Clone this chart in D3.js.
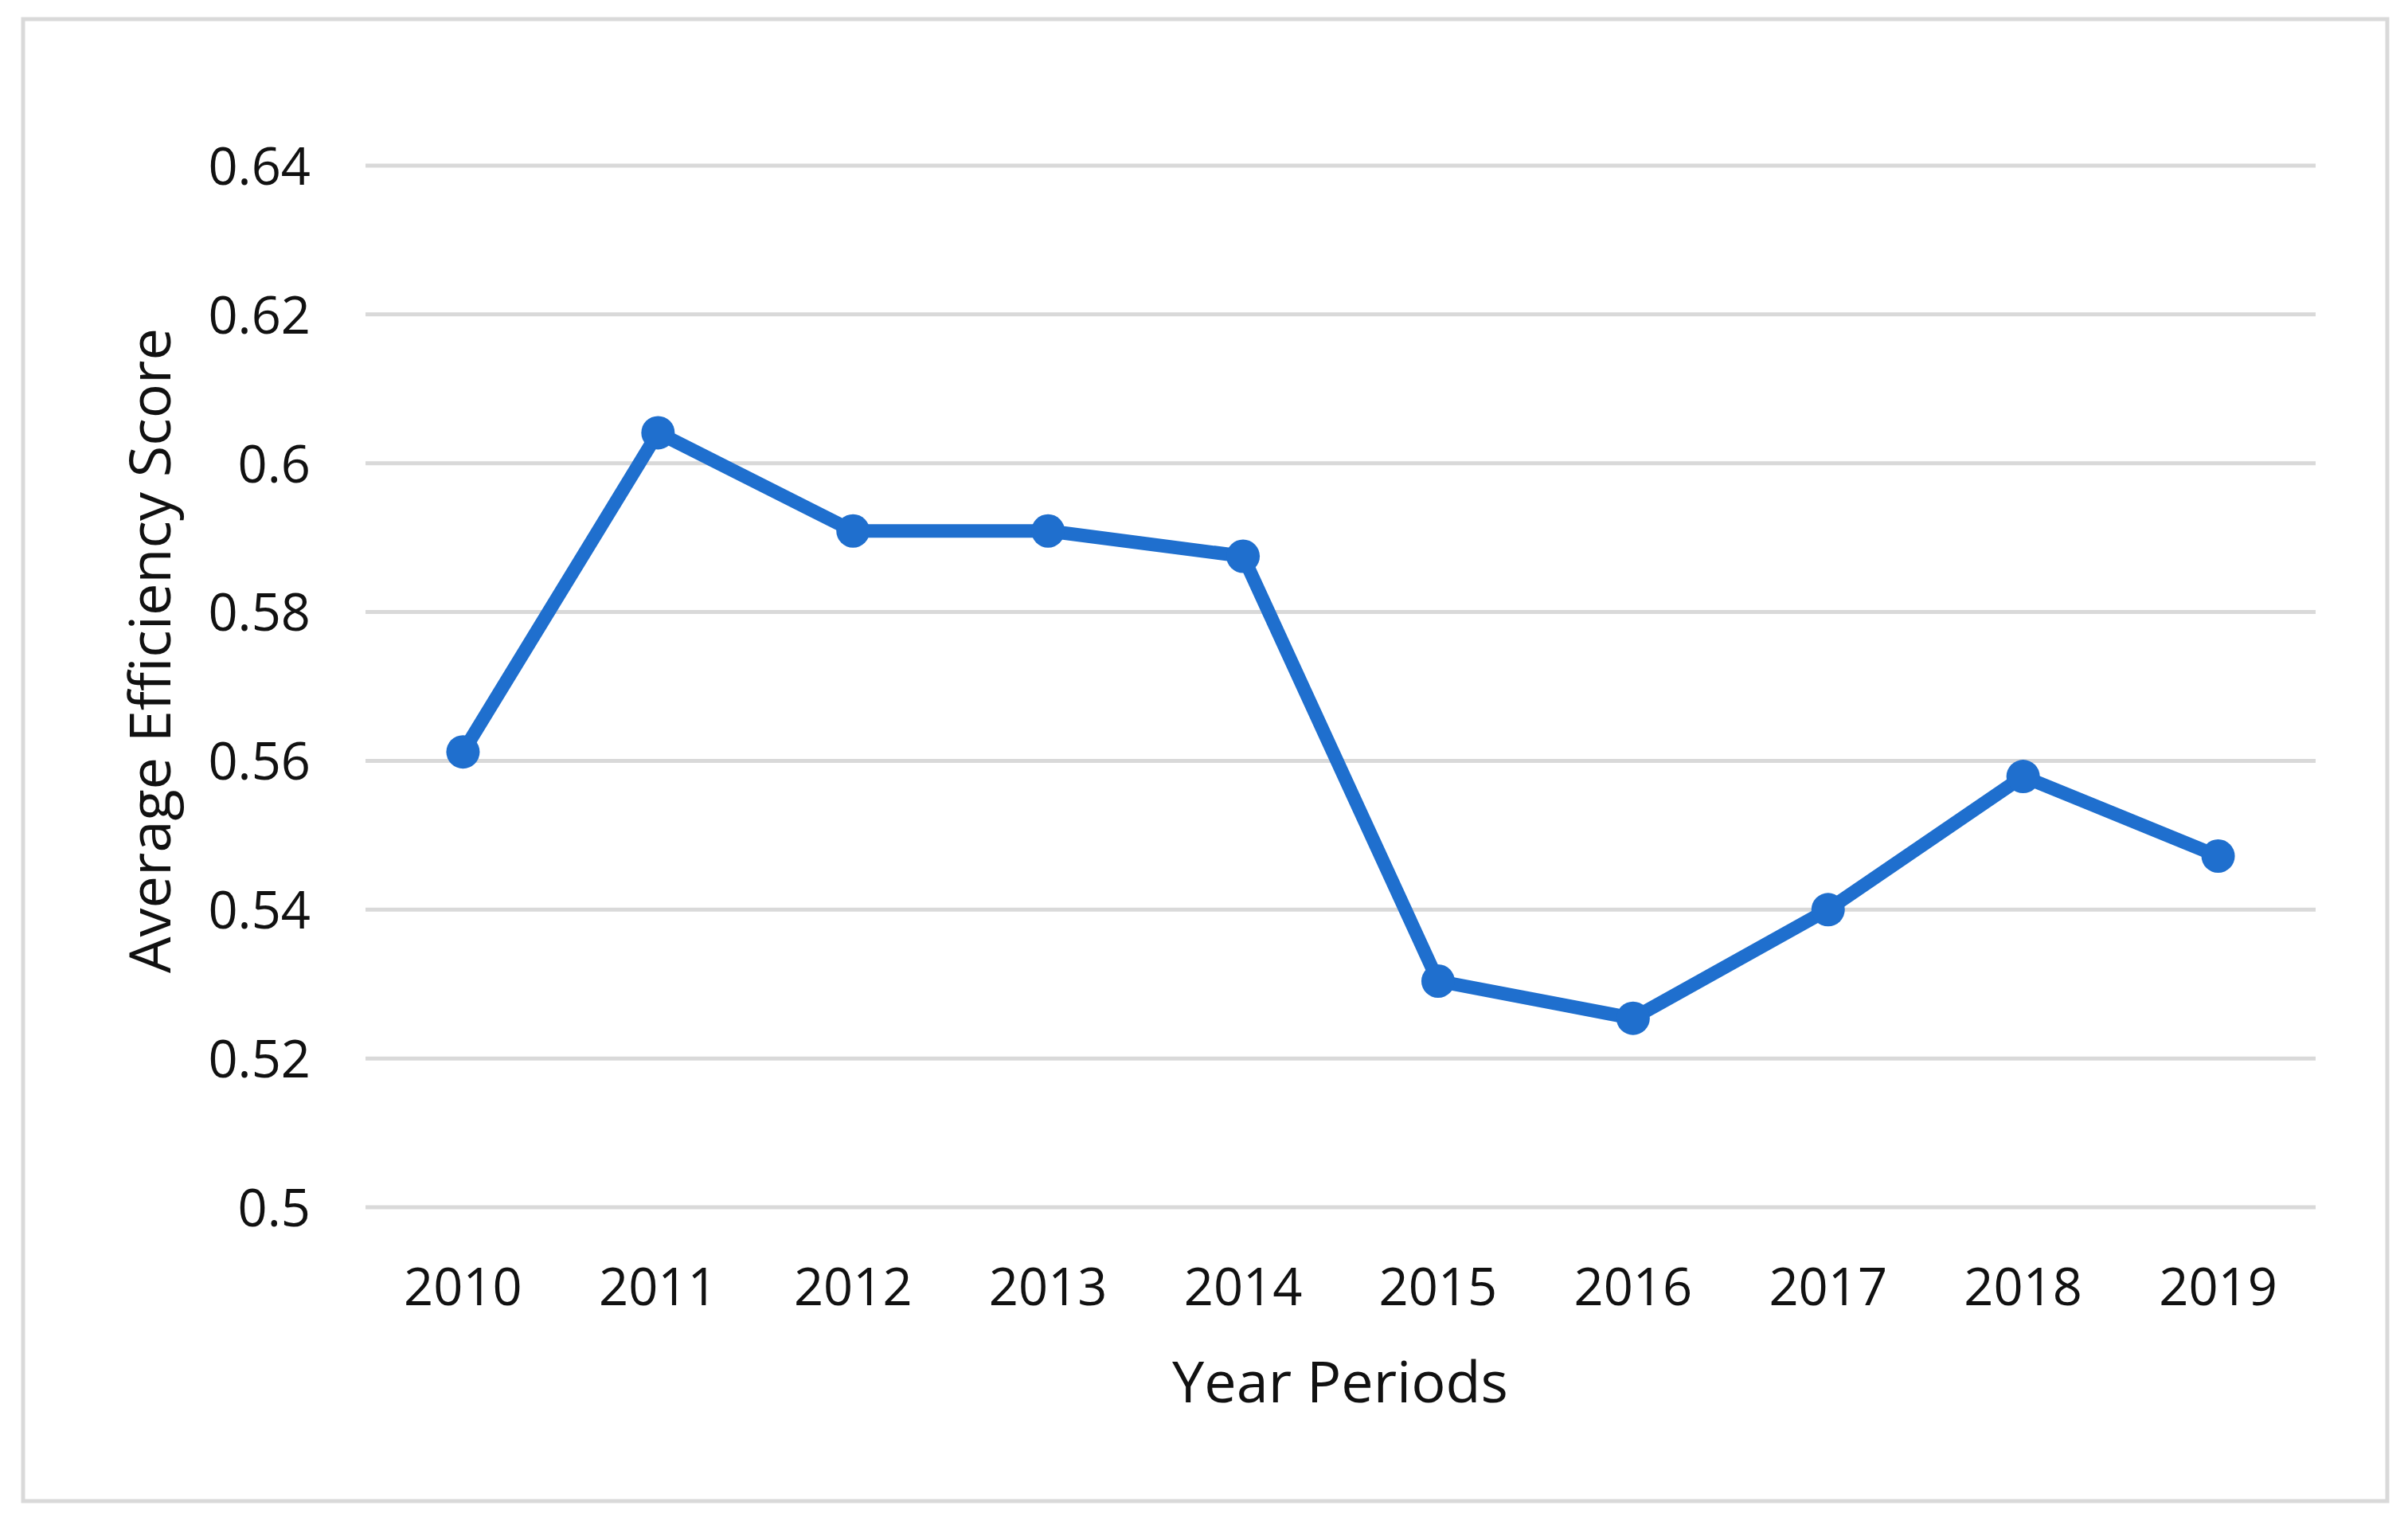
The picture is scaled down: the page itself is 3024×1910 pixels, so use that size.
<!DOCTYPE html>
<html>
<head>
<meta charset="utf-8">
<script src="https://cdn.jsdelivr.net/npm/d3@7"></script>
<style>
  html, body { margin: 0; padding: 0; background: #ffffff; }
  svg { display: block; }
  text { font-family: "Open Sans", "Noto Sans", sans-serif; fill: #111111; }
</style>
</head>
<body>
<script>
// ---- data ----
const years = ["2010", "2011", "2012", "2013", "2014", "2015", "2016", "2017", "2018", "2019"];
const scores = [0.5612, 0.6041, 0.5909, 0.5909, 0.5875, 0.5304, 0.5254, 0.5400, 0.5579, 0.5472];
const yTicks = [0.5, 0.52, 0.54, 0.56, 0.58, 0.6, 0.62, 0.64];
const yTickLabels = ["0.5", "0.52", "0.54", "0.56", "0.58", "0.6", "0.62", "0.64"];
const xTitle = "Year Periods";
const yTitle = "Average Efficiency Score";

// ---- layout ----
const W = 3024, H = 1910;
const plot = { left: 459, right: 2908, top: 208, bottom: 1516 };
const lineColor = "#1f6fce";
const gridColor = "#d9d9d9";

const svg = d3.select("body").append("svg")
  .attr("width", W).attr("height", H)
  .attr("viewBox", `0 0 ${W} ${H}`);

svg.append("rect").attr("x", 0).attr("y", 0).attr("width", W).attr("height", H).attr("fill", "#ffffff");

// outer chart border
svg.append("rect")
  .attr("x", 29).attr("y", 24).attr("width", 2969).attr("height", 1861)
  .attr("fill", "none").attr("stroke", gridColor).attr("stroke-width", 5);

const x = d3.scaleBand().domain(years).range([plot.left, plot.right]).padding(0);
const y = d3.scaleLinear().domain([0.5, 0.64]).range([plot.bottom, plot.top]);

// gridlines
svg.append("g").selectAll("line").data(yTicks).join("line")
  .attr("x1", plot.left).attr("x2", plot.right)
  .attr("y1", d => y(d)).attr("y2", d => y(d))
  .attr("stroke", gridColor).attr("stroke-width", 5);

// y axis labels
const yAxis = d3.axisLeft(y).tickValues(yTicks)
  .tickFormat((d, i) => yTickLabels[i]).tickSize(0).tickPadding(0);
const gy = svg.append("g").attr("transform", `translate(390,0)`).call(yAxis);
gy.select(".domain").remove();
gy.selectAll("text")
  .attr("font-family", "'Open Sans', sans-serif")
  .attr("font-size", 65).attr("fill", "#111111")
  .attr("dy", "0.36em");

// x axis labels
const xAxis = d3.axisBottom(x).tickSize(0).tickPadding(0);
const gx = svg.append("g").attr("transform", `translate(0,1639)`).call(xAxis);
gx.select(".domain").remove();
gx.selectAll("text")
  .attr("font-family", "'Open Sans', sans-serif")
  .attr("font-size", 65).attr("fill", "#111111")
  .attr("dy", 0).attr("y", 0);

// axis titles
svg.append("text")
  .attr("x", 1683).attr("y", 1761)
  .attr("text-anchor", "middle")
  .attr("font-size", 72)
  .text(xTitle);

svg.append("text")
  .attr("transform", "translate(214,817) rotate(-90)")
  .attr("text-anchor", "middle")
  .attr("font-size", 72)
  .text(yTitle);

// line
const cx = d => x(d) + x.bandwidth() / 2;
const line = d3.line().x((d, i) => cx(years[i])).y(d => y(d));
svg.append("path").datum(scores)
  .attr("d", line)
  .attr("fill", "none").attr("stroke", lineColor)
  .attr("stroke-width", 17).attr("stroke-linejoin", "round");

// markers
svg.append("g").selectAll("circle").data(scores).join("circle")
  .attr("cx", (d, i) => cx(years[i])).attr("cy", d => y(d))
  .attr("r", 21).attr("fill", lineColor);
</script>
</body>
</html>
